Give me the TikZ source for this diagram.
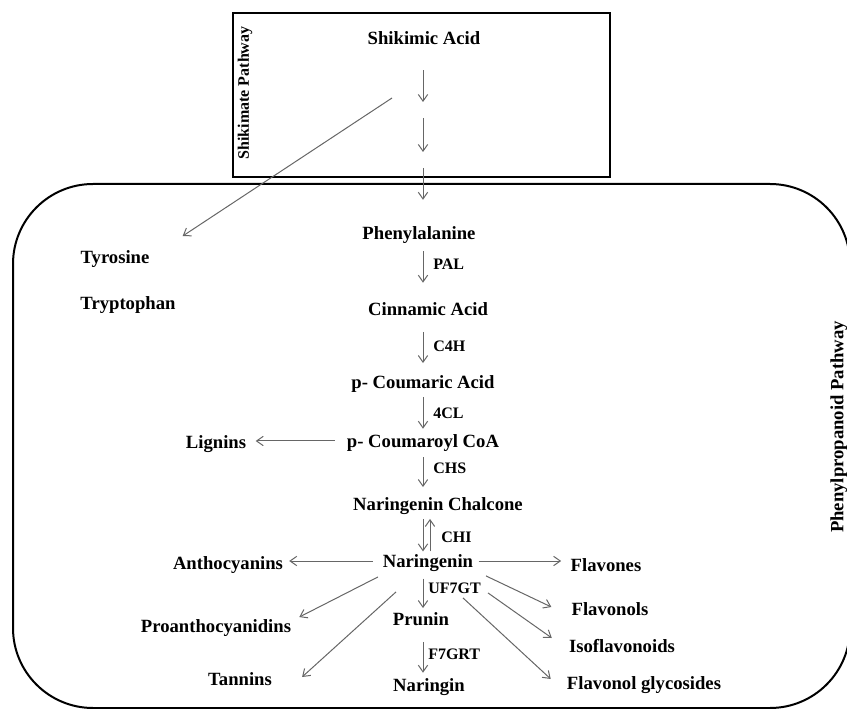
\documentclass[tikz,border=0pt]{standalone}
\usepackage{fontspec}
\setmainfont{Liberation Serif}
\usetikzlibrary{arrows.meta}
\usetikzlibrary{calc}

\tikzset{
  cpd/.style={font=\bfseries\fontsize{14}{16}\selectfont, inner sep=0pt, text height=10pt, text depth=0pt},
  enz/.style={font=\bfseries\fontsize{12}{14}\selectfont, inner sep=0pt, anchor=west},
  conv/.style={draw=black!60, line width=0.75pt, -{Straight Barb[length=5pt,width=7pt]}},
  frame/.style={draw=black, line width=1.5pt}
}

\begin{document}
\begin{tikzpicture}[x=0.75pt, y=-0.75pt]
\useasboundingbox (0,0) rectangle (847,709);

%shikimate box
\draw[frame] (233,13) rectangle (610,177);
\node[font=\bfseries\fontsize{12}{14}\selectfont, rotate=90] (shiklab) at (245,93) {Shikimate Pathway};

%phenylpropanoid box
\draw[frame, rounded corners=60pt] (13,184) rectangle (850,708);
\node[font=\bfseries\fontsize{14}{16}\selectfont, rotate=90] (phenlab) at (839,427) {Phenylpropanoid Pathway};

%main column
\node[cpd] (shik) at (424,38) {Shikimic Acid};
\node[cpd] (phe) at (419,233) {Phenylalanine};
\node[cpd] (cin) at (428,309) {Cinnamic Acid};
\node[cpd] (cum) at (423,382) {p- Coumaric Acid};
\node[cpd] (coa) at (423,441) {p- Coumaroyl CoA};
\node[cpd] (chal) at (438,504) {Naringenin Chalcone};
\node[cpd] (nar) at (428,561) {Naringenin};
\node[cpd] (pru) at (421,619) {Prunin};
\node[cpd] (nin) at (429,685) {Naringin};

%side products
\node[cpd] (tyr) at (115,257) {Tyrosine};
\node[cpd] (trp) at (128,303) {Tryptophan};
\node[cpd] (lig) at (216,442) {Lignins};
\node[cpd] (ant) at (228,563) {Anthocyanins};
\node[cpd] (pro) at (216,626) {Proanthocyanidins};
\node[cpd] (tan) at (240,679) {Tannins};
\node[cpd] (flv) at (606,565) {Flavones};
\node[cpd] (fol) at (610,609) {Flavonols};
\node[cpd] (iso) at (622,646) {Isoflavonoids};
\node[cpd] (gly) at (644,683) {Flavonol glycosides};

%enzymes
\foreach \n/\t/\x/\y in {pal/PAL/433/264, cfh/C4H/433/346, fcl/4CL/433/413, chs/CHS/433/468,
  chi/CHI/441/537, uf/UF7GT/428/588, fgr/F7GRT/428/654} {
\node[enz] (\n) at (\x,\y) {\t};
}

%shikimate steps
\coordinate (ax) at (423,0);
\coordinate (ax2) at (430,0);
\coordinate (s1) at (423,110);
\coordinate (s2) at (423,160);
\coordinate (br) at (392,98);
\draw[conv, shorten <=19pt, shorten >=6pt] (shik.south -| ax) -- (s1);
\draw[conv, shorten <=6pt, shorten >=6pt] (s1) -- (s2);
\draw[conv, shorten <=6pt, shorten >=19.7pt] (s2) -- (phe.north -| ax);
\draw[conv] (br) -- ($(tyr.north east)+(33,-14)$);

%phenylpropanoid steps
\draw[conv, shorten <=8.5pt, shorten >=14.5pt] (phe.south -| ax) -- (cin.north -| ax);
\draw[conv, shorten <=12pt, shorten >=9pt] (cin.south -| ax) -- (cum.north -| ax);
\draw[conv, shorten <=6pt, shorten >=4pt] (cum.south -| ax) -- (coa.north -| ax);
\draw[conv, shorten <=7pt, shorten >=7.5pt] (coa.south -| ax) -- (chal.north -| ax);
\draw[conv, shorten <=6pt, shorten >=2pt] (chal.south -| ax) -- (nar.north -| ax);
\draw[conv, shorten <=2pt, shorten >=6pt] (nar.north -| ax2) -- (chal.south -| ax2);
\draw[conv, shorten <=8pt, shorten >=3pt] (nar.south -| ax) -- (pru.north -| ax);
\draw[conv, shorten <=12pt, shorten >=4pt] (pru.south -| ax) -- (nin.north -| ax);

%branches
\draw[conv, shorten <=9pt, shorten >=7pt] (coa.west) -- (coa.west -| lig.east);
\draw[conv, shorten <=7.5pt, shorten >=4.5pt] (nar.west) -- (nar.west -| ant.east);
\draw[conv, shorten <=4pt, shorten >=7pt] (nar.east) -- (nar.east -| flv.west);
\draw[conv] ($(nar.south)+(-50,9)$) -- ($(pro.north east)+(8,-2)$);
\draw[conv] ($(nar.south)+(-32,24)$) -- ($(tan.east)+(30,-2)$);
\draw[conv] ($(nar.south)+(58,8)$) -- ($(fol.west)+(-20,-2)$);
\draw[conv] ($(nar.south)+(60,25)$) -- ($(iso.west)+(-17,-8)$);
\draw[conv] ($(nar.south)+(35,30)$) -- ($(gly.west)+(-16,-4)$);
\end{tikzpicture}
\end{document}
